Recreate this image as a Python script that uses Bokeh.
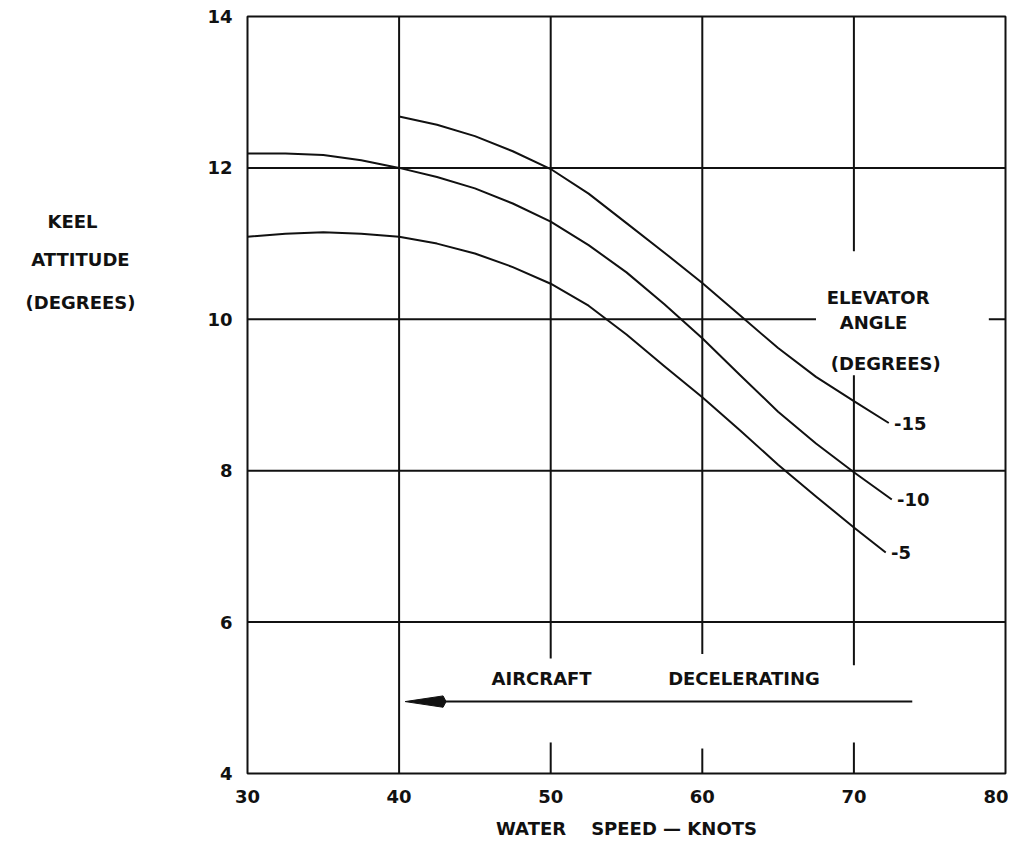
from bokeh.plotting import figure
from bokeh.layouts import row
from bokeh.models import Range1d, FixedTicker
from bokeh.embed import file_html
from bokeh.resources import INLINE
from bokeh.core.properties import value

# ---- data ----
speed_m15 = [40, 42.5, 45, 47.5, 50, 52.5, 55, 57.5, 60, 62.5, 65, 67.5, 70, 72.3]
att_m15 = [12.68, 12.57, 12.42, 12.22, 11.985, 11.66, 11.27, 10.88, 10.48, 10.05, 9.62, 9.24, 8.92, 8.63]

speed_m10 = [30, 32.5, 35, 37.5, 40, 42.5, 45, 47.5, 50, 52.5, 55, 57.5, 60, 62.5, 65, 67.5, 70, 72.5]
att_m10 = [12.19, 12.19, 12.17, 12.1, 12.0, 11.88, 11.73, 11.53, 11.29, 10.98, 10.62, 10.2, 9.75, 9.26, 8.78, 8.36, 7.98, 7.62]

speed_m5 = [30, 32.5, 35, 37.5, 40, 42.5, 45, 47.5, 50, 52.5, 55, 57.5, 60, 62.5, 65, 67.5, 70, 72.1]
att_m5 = [11.09, 11.13, 11.15, 11.13, 11.09, 11.0, 10.87, 10.69, 10.47, 10.18, 9.8, 9.38, 8.97, 8.53, 8.08, 7.66, 7.25, 6.92]

series_speeds = [speed_m15, speed_m10, speed_m5]
series_atts = [att_m15, att_m10, att_m5]
series_labels = ["-15", "-10", "-5"]

x_ticks = [30, 40, 50, 60, 70, 80]
y_ticks = [4, 6, 8, 10, 12, 14]
x_grid = [40, 50, 60, 70]
y_grid = [6, 8, 10, 12]
# gaps in the drawn grid lines (where text sits)
x_grid_gaps = {40: [], 50: [(4.41, 5.52)], 60: [(4.33, 5.58)], 70: [(4.41, 5.43), (9.26, 10.9)]}
y_grid_gaps = {6: [], 8: [], 10: [(67.5, 78.9)], 12: []}

y_title_lines = ["KEEL", "ATTITUDE", "(DEGREES)"]
x_title = "WATER\u00a0\u00a0\u00a0\u00a0SPEED \u2014 KNOTS"
legend_lines = ["ELEVATOR", "ANGLE", "(DEGREES)"]
note_words = ["AIRCRAFT", "DECELERATING"]

FONT = "DejaVu Sans"
INK = "#111111"
FS = "18px"
H = 841

# ---------- left panel holding the horizontal y-axis title ----------
left = figure(width=200, height=H, output_backend="svg", toolbar_location=None,
              x_range=Range1d(0, 200), y_range=Range1d(H, 0), min_border=0)
left.outline_line_color = None
left.axis.visible = False
left.grid.visible = False
left.text([72, 80, 80], [228, 270, 318], text=y_title_lines, text_font=value(FONT),
          text_font_style="bold", text_font_size=FS, text_color=INK,
          text_align="center", text_baseline="middle")

# ---------- main chart ----------
p = figure(width=808, height=H, output_backend="svg", toolbar_location=None,
           x_range=Range1d(30, 80), y_range=Range1d(4, 14),
           min_border_left=47, min_border_right=3, min_border_top=16, min_border_bottom=68)
p.background_fill_color = "white"
p.border_fill_color = "white"
p.outline_line_color = INK
p.outline_line_width = 2
p.xgrid.visible = False
p.ygrid.visible = False

for ax in (p.xaxis[0], p.yaxis[0]):
    ax.axis_line_color = None
    ax.major_tick_line_color = None
    ax.minor_tick_line_color = None
    ax.major_label_text_font = FONT
    ax.major_label_text_font_style = "bold"
    ax.major_label_text_font_size = FS
    ax.major_label_text_color = INK
p.xaxis.ticker = FixedTicker(ticks=x_ticks)
p.yaxis.ticker = FixedTicker(ticks=y_ticks)
p.xaxis.major_label_standoff = 10
p.yaxis.major_label_standoff = 9
p.xaxis.axis_label = x_title
p.xaxis.axis_label_text_font = FONT
p.xaxis.axis_label_text_font_style = "bold"
p.xaxis.axis_label_text_font_size = FS
p.xaxis.axis_label_text_color = INK
p.xaxis.axis_label_standoff = 12


def split(lo, hi, gaps):
    segs = []
    start = lo
    for a, b in gaps:
        segs.append((start, a))
        start = b
    segs.append((start, hi))
    return segs

# broken grid lines
gx0, gy0, gx1, gy1 = [], [], [], []
for gx in x_grid:
    for a, b in split(4, 14, x_grid_gaps[gx]):
        gx0.append(gx); gx1.append(gx); gy0.append(a); gy1.append(b)
for gy in y_grid:
    for a, b in split(30, 80, y_grid_gaps[gy]):
        gx0.append(a); gx1.append(b); gy0.append(gy); gy1.append(gy)
p.segment(gx0, gy0, gx1, gy1, line_color=INK, line_width=2)

# curves
for xs, ys in zip(series_speeds, series_atts):
    p.line(xs, ys, line_color=INK, line_width=2, line_join="round")

# curve labels
lab_x = [xs[-1] + 0.35 for xs in series_speeds]
lab_y = [ys[-1] for ys in series_atts]
p.text(lab_x, lab_y, text=series_labels, text_font=value(FONT), text_font_style="bold",
       text_font_size=FS, text_color=INK, text_baseline="middle", text_align="left")

# legend title block
p.text([71.6, 71.3, 72.1], [10.29, 9.96, 9.42], text=legend_lines, text_font=value(FONT),
       text_font_style="bold", text_font_size=FS, text_color=INK,
       text_baseline="middle", text_align="center")

# deceleration arrow
arrow_y = 4.95
arrow_tail = 73.85
arrow_tip = 40.4
head_base = 43.0
p.line([head_base, arrow_tail], [arrow_y, arrow_y], line_color=INK, line_width=2)
p.patch([arrow_tip, head_base - 0.1, head_base + 0.1, head_base - 0.1],
        [arrow_y, arrow_y + 0.075, arrow_y, arrow_y - 0.075],
        fill_color=INK, line_color=INK, line_width=1)
p.text([49.4, 62.75], [5.25, 5.25], text=note_words, text_font=value(FONT),
       text_font_style="bold", text_font_size=FS, text_color=INK,
       text_baseline="middle", text_align="center")

layout = row(left, p)
open("out.html", "w").write(file_html(layout, INLINE))
